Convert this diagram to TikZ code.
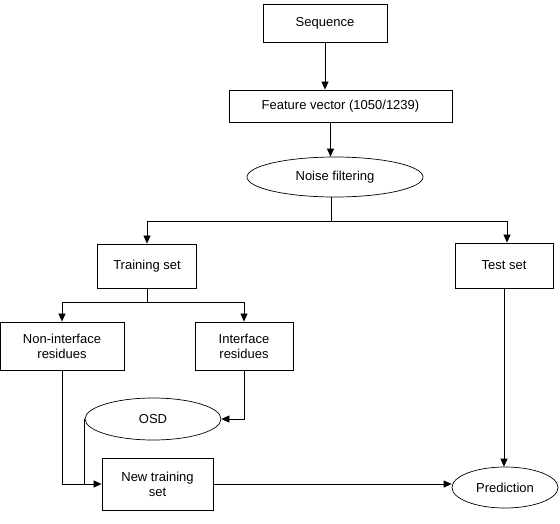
\documentclass[tikz,border=0pt]{standalone}
\usepackage{fontspec}
\setmainfont{Liberation Sans}
\usepackage{tikz}
\usetikzlibrary{arrows.meta,positioning,shapes.geometric}

\begin{document}
\begin{tikzpicture}[
  x=1pt,y=-1pt,
  font=\fontsize{13}{15}\selectfont,
  box/.style={draw,line width=0.9pt,align=center,inner sep=2pt},
  oval/.style={draw,ellipse,line width=0.7pt,align=center,inner sep=1pt},
  arr/.style={-{Triangle[length=8pt,width=7pt]},line width=0.7pt},
  ln/.style={line width=0.7pt}
]
\useasboundingbox (0,0) rectangle (560,523);

% ---- top chain ----
\node[box,minimum width=124pt,minimum height=38pt] (seq) at (325,23) {Sequence};
\node[box,minimum width=223pt,minimum height=32pt] (fvec) at (340.5,106) {Feature vector (1050/1239)};
\node[oval,minimum width=176pt,minimum height=40pt] (noise) at (335,177) {Noise filtering};
\draw[arr] (seq.south) -- (seq.south |- fvec.north);
\draw[arr] ([xshift=-10pt]fvec.south) -- ([xshift=-10pt]fvec.south |- noise.north);

% ---- training / test split ----
\node[box,minimum width=99pt,minimum height=44pt] (train) at (147,266) {Training set};
\node[box,minimum width=98pt,minimum height=45pt] (test) at (504,265.5) {Test set};
\coordinate (split) at (331,221);
\draw[ln] (noise.south -| split) -- (split);
\draw[arr] (split) -| (train.north);
\draw[arr] (split) -| ([xshift=3pt]test.north);

% ---- residues ----
\node[box,minimum width=124pt,minimum height=48pt] (nonint) at (62,346) {Non-interface\\residues};
\node[box,minimum width=98pt,minimum height=48pt] (inter) at (244,346) {Interface\\residues};
\coordinate (split2) at (147,302);
\draw[ln] (train.south) -- (split2);
\draw[arr] (split2) -| (nonint.north);
\draw[arr] (split2) -| (inter.north);

% ---- oversampling and prediction ----
\node[oval,minimum width=136pt,minimum height=42pt] (osd) at (153,419) {OSD};
\node[box,minimum width=111pt,minimum height=52pt] (newtr) at (157.5,484) {New training\\set};
\node[oval,minimum width=106pt,minimum height=41pt] (pred) at (505,487.5) {Prediction};
\draw[arr] (inter.south) |- (osd.east);
\draw[arr] (nonint.south) |- (newtr.west);
\draw[ln] (osd.west) -- (osd.west |- newtr.west);
\draw[arr] (newtr.east) -- (newtr.east -| pred.west);
\draw[arr] (test.south) -- (test.south |- pred.north);
\end{tikzpicture}
\end{document}
